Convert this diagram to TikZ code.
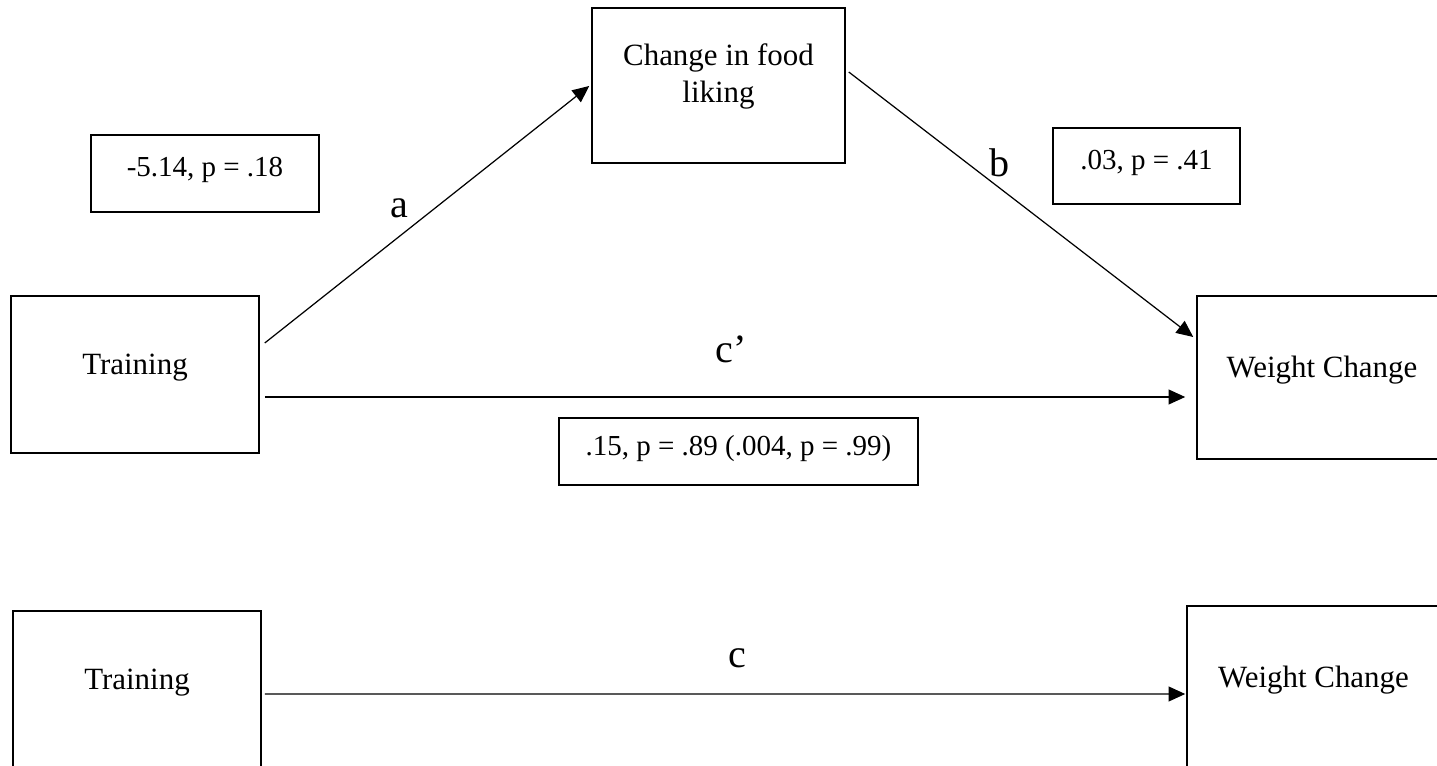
\documentclass[tikz,border=0pt]{standalone}
\usepackage{fontspec}
\setmainfont{Liberation Serif}
\usetikzlibrary{arrows.meta,calc}

\tikzset{
  varbox/.style={draw, line width=0.9pt, align=center, inner sep=0pt,
    font=\fontsize{17.6}{21}\selectfont, text depth=0.42cm},
  valbox/.style={draw, line width=0.9pt, inner sep=0pt,
    font=\fontsize{16.5}{20}\selectfont, text depth=0.26cm},
  pathlbl/.style={inner sep=0pt, font=\fontsize{22.8}{27}\selectfont},
  arr/.style={line width=0.7pt, -{Triangle[length=9.5pt,width=8.5pt]}}
}

\begin{document}
\begin{tikzpicture}[x=0.02cm, y=-0.02cm]
        % Page frame (boxes at the right and bottom run off the page)
        \useasboundingbox (0,0) rectangle (1437,766);
        \clip (0,0) rectangle (1437,766);

        % Mediation model
        \node[varbox, minimum width=4.96cm, minimum height=3.14cm] (train) at (135,374.5) {Training};
        \node[varbox, minimum width=5.06cm, minimum height=3.1cm, text depth=0.5cm] (food) at (718.5,85.5) {Change in food\\liking};
        \node[varbox, minimum width=5cm, minimum height=3.26cm] (weight) at (1322,377.5) {Weight Change};

        % Path coefficients
        \node[valbox, minimum width=4.56cm, minimum height=1.54cm] (vala) at (205,173.5) {-5.14, p = .18};
        \node[valbox, minimum width=3.74cm, minimum height=1.52cm] (valb) at (1146.5,166) {.03, p = .41};
        \node[valbox, minimum width=7.18cm, minimum height=1.34cm] (valc) at (738.5,451.5) {.15, p = .89 (.004, p = .99)};

        % Paths a, b and c'
        \draw[arr] ($(train.east)+(5,-31.5)$) -- ($(food.west)+(-2,0.5)$);
        \draw[arr] ($(food.east)+(3,-13.5)$) -- ($(weight.west)+(-3,-40.5)$);
        \draw[arr] ($(train.east)+(5,22.5)$) -- ($(weight.west)+(-11,19.5)$);
        \node[pathlbl] (lbla) at (399,208) {a};
        \node[pathlbl] (lblb) at (1000,162.5) {b};
        \node[pathlbl] (lblcp) at (731,349.5) {c’};

        % Total effect
        \node[varbox, minimum width=4.96cm, minimum height=3.14cm] (trainB) at (137,689.5) {Training};
        \node[varbox, minimum width=5.06cm, minimum height=3.24cm] (weightB) at (1313.5,687) {Weight Change};
        \draw[arr] ($(trainB.east)+(3,4.5)$) -- ($(weightB.west)+(-1,7)$);
        \node[pathlbl] (lblc) at (737,658) {c};

\end{tikzpicture}
\end{document}
